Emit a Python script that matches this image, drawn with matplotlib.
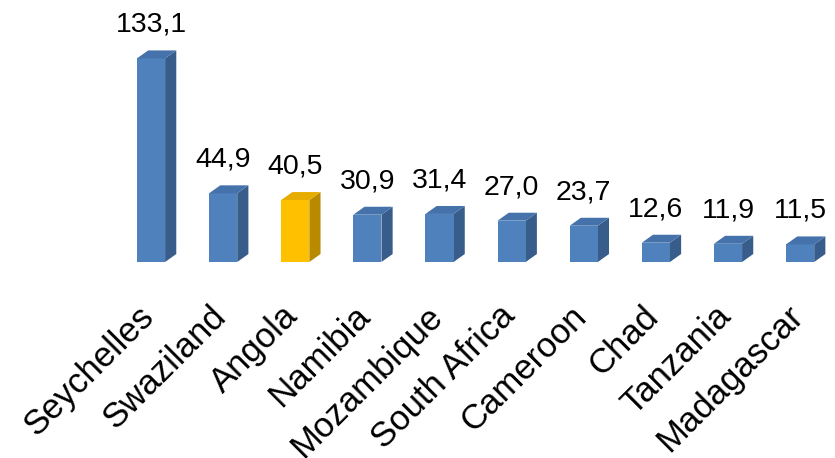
import matplotlib
matplotlib.use("Agg")
import matplotlib.pyplot as plt
from matplotlib.patches import Polygon

countries = ["Seychelles", "Swaziland", "Angola", "Namibia", "Mozambique",
             "South Africa", "Cameroon", "Chad", "Tanzania", "Madagascar"]
values = [133.1, 44.9, 40.5, 30.9, 31.4, 27.0, 23.7, 12.6, 11.9, 11.5]
labels = ["133,1", "44,9", "40,5", "30,9", "31,4", "27,0", "23,7", "12,6", "11,9", "11,5"]
highlight = "Angola"

plt.rcParams['font.family'] = ['Liberation Sans', 'DejaVu Sans']

fig = plt.figure(figsize=(8.35, 4.58), dpi=100)
ax = fig.add_axes([0.1377, 0.428, 0.862, 0.501])
ax.set_xlim(-0.5, 9.48)
ax.set_ylim(0, 150)
ax.axis('off')

width = 0.39
dx = 0.155   # depth in x (data units)
dy = 5.2     # depth in y (data units)

blue = dict(front="#4F81BD", side="#385D8A", top="#4572AA")
gold = dict(front="#FFC000", side="#B88A00", top="#E6AD00")

for i, (c, v, lab) in enumerate(zip(countries, values, labels)):
    col = gold if c == highlight else blue
    x0 = i - width / 2
    x1 = i + width / 2
    ax.bar(i, v, width=width, color=col["front"], edgecolor='none', zorder=2)
    side = Polygon([(x1, 0), (x1 + dx, dy), (x1 + dx, v + dy), (x1, v)],
                   closed=True, facecolor=col["side"], edgecolor='none', zorder=1)
    top = Polygon([(x0, v), (x0 + dx, v + dy), (x1 + dx, v + dy), (x1, v)],
                  closed=True, facecolor=col["top"], edgecolor='none', zorder=3)
    for p in (side, top):
        p.set_clip_on(False)
        ax.add_patch(p)
    ax.annotate(lab, (i, v + dy), xytext=(0, 9), textcoords='offset points',
                ha='center', va='bottom', fontsize=20.5, color='black',
                annotation_clip=False)
    ax.annotate(c, (i, 0), xytext=(-10, -27), textcoords='offset points',
                ha='right', va='top', rotation=45, rotation_mode='anchor',
                fontsize=25, color='black', annotation_clip=False)

fig.savefig("out.png", dpi=100)
